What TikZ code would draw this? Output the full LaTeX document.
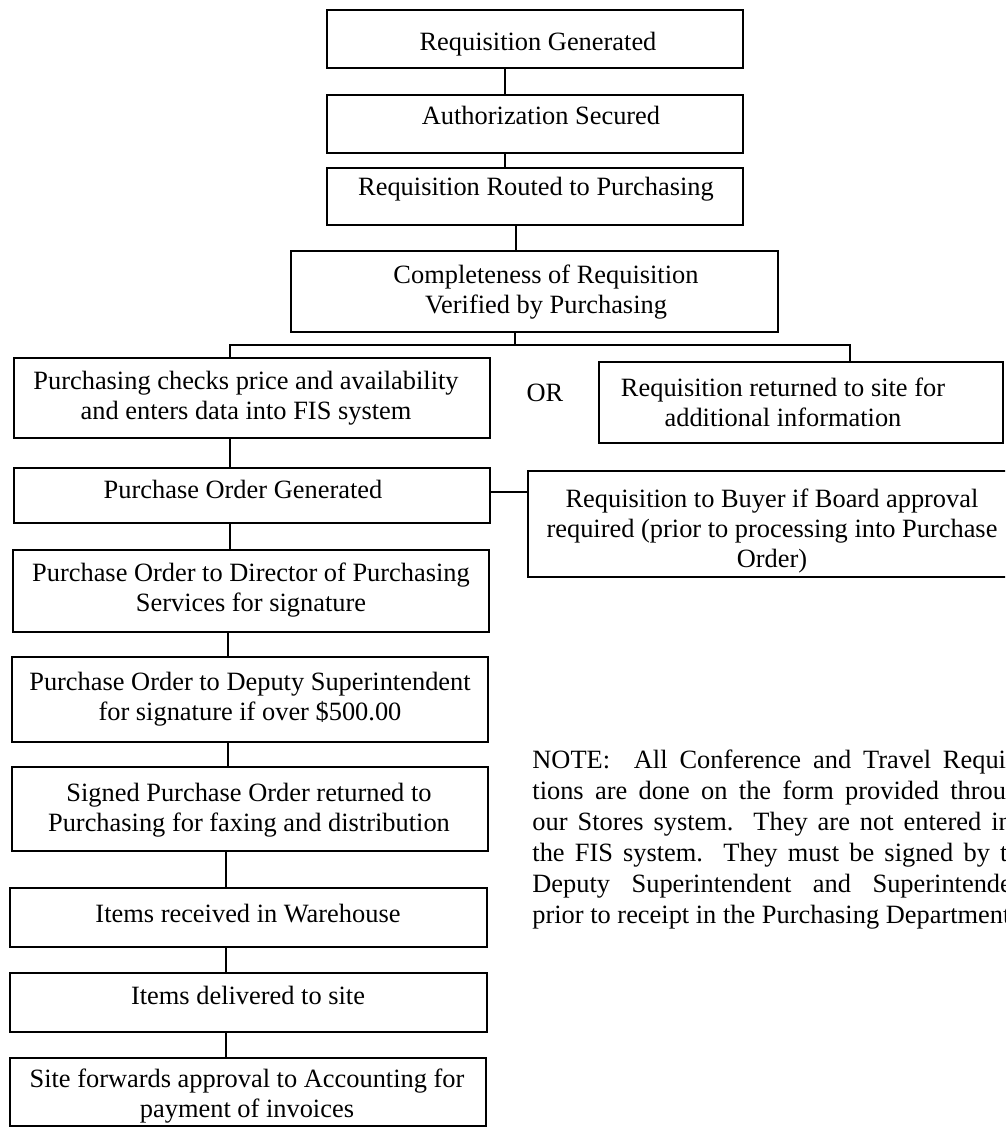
\documentclass[tikz,border=0pt]{standalone}
\usepackage{fontspec}
\setmainfont{Liberation Serif}
\newcommand\flowbox[5]{\node[box, minimum width={(#3-#2)*0.5pt}, minimum height={(#5-#4)*0.5pt}] (#1) at ({(#2+#3)/2},{(#4+#5)/2}) {};}
\begin{document}
\begin{tikzpicture}[x=0.5pt,y=-0.5pt,
  box/.style={draw, line width=1.4pt, inner sep=0pt},
  txt/.style={font=\fontsize{13.2}{15}\selectfont, align=center, inner sep=0pt},
  link/.style={line width=1.3pt},
  notel/.style={font=\fontsize{13.2}{15.4}\selectfont, inner sep=0pt, anchor=base west}]
\useasboundingbox (0,0) rectangle (1005,1127);
\clip (0,0) rectangle (1005,1127);
% boxes: name, left, right, top, bottom (pixels)
\flowbox{B1}{327}{743}{10}{68}
\flowbox{B2}{327}{743}{95}{153}
\flowbox{B3}{327}{743}{168}{225}
\flowbox{B4}{291}{778}{251}{332}
\flowbox{B5}{14}{490}{358}{438}
\flowbox{B6}{599}{1003}{362}{443}
\flowbox{B7}{14}{490}{468}{523}
\flowbox{B8}{528}{1016}{471}{577}
\flowbox{B9}{13}{489}{550}{632}
\flowbox{B10}{12}{488}{657}{742}
\flowbox{B11}{12}{488}{767}{851}
\flowbox{B12}{10}{487}{888}{947}
\flowbox{B13}{10}{487}{973}{1032}
\flowbox{B14}{10}{486}{1058}{1126}
% texts
\node[txt, anchor=base] (T1) at (538,51) {Requisition Generated};
\node[txt, anchor=base] (T2) at (541,125) {Authorization Secured};
\node[txt, anchor=base] (T3) at (536,196) {Requisition Routed to Purchasing};
\node[txt] (T4) at (546,292) {Completeness of Requisition\\Verified by Purchasing};
\node[txt] (T5) at (246,398) {Purchasing checks price and availability\\and enters data into FIS system};
\node[txt] (T6) at (783,402) {Requisition returned to site for\\additional information};
\node[txt, anchor=base] (OR) at (545,402) {OR};
\node[txt, anchor=base] (T7) at (243,498) {Purchase Order Generated};
\node[txt] (T8) at (772,531) {Requisition to Buyer if Board approval\\required (prior to processing into Purchase\\Order)};
\node[txt] (T9) at (251,590) {Purchase Order to Director of Purchasing\\Services for signature};
\node[txt] (T10) at (250,699) {Purchase Order to Deputy Superintendent\\for signature if over \$500.00};
\node[txt] (T11) at (249,810) {Signed Purchase Order returned to\\Purchasing for faxing and distribution};
\node[txt, anchor=base] (T12) at (248,922) {Items received in Warehouse};
\node[txt, anchor=base] (T13) at (248,1004) {Items delivered to site};
\node[txt] (T14) at (247,1096) {Site forwards approval to Accounting for\\payment of invoices};
% connectors
\coordinate (c1) at (505,0);
\coordinate (c3) at (516,0);
\coordinate (br) at (515,345);
\coordinate (cL) at (230,0);
\coordinate (cR) at (850,0);
\coordinate (cM) at (228,0);
\coordinate (cB) at (226,0);
\coordinate (c78) at (0,492);
\draw[link] (B1.south -| c1) -- (B2.north -| c1);
\draw[link] (B2.south -| c1) -- (B3.north -| c1);
\draw[link] (B3.south -| c3) -- (B4.north -| c3);
\draw[link] (B4.south -| br) -- (br);
\draw[link] (B5.north -| cL) -- (cL |- br) -- (cR |- br) -- (B6.north -| cR);
\draw[link] (B5.south -| cL) -- (B7.north -| cL);
\draw[link] (B7.east |- c78) -- (B8.west |- c78);
\draw[link] (B7.south -| cL) -- (B9.north -| cL);
\draw[link] (B9.south -| cM) -- (B10.north -| cM);
\draw[link] (B10.south -| cM) -- (B11.north -| cM);
\draw[link] (B11.south -| cB) -- (B12.north -| cB);
\draw[link] (B12.south -| cB) -- (B13.north -| cB);
\draw[link] (B13.south -| cB) -- (B14.north -| cB);
% note
\node[notel] (N1) at (532,768) {\makebox[250pt][s]{NOTE:\ \ All Conference and Travel Requisi-}};
\node[notel] (N2) at (532,799) {\makebox[250pt][s]{tions are done on the form provided through}};
\node[notel] (N3) at (532,830) {\makebox[250pt][s]{our Stores system.\ \ They are not entered into}};
\node[notel] (N4) at (532,861) {\makebox[250pt][s]{the FIS system.\ \ They must be signed by the}};
\node[notel] (N5) at (532,892) {\makebox[250pt][s]{Deputy Superintendent and Superintendent}};
\node[notel] (N6) at (532,923) {prior to receipt in the Purchasing Department.};
\end{tikzpicture}
\end{document}
